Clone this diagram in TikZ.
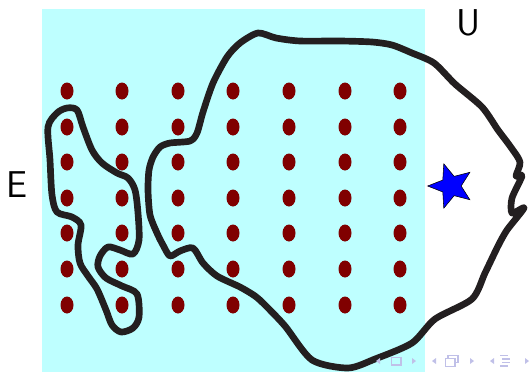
\documentclass[tikz,border=0pt]{standalone}
\usepackage{tikz}
\usetikzlibrary{shapes.geometric}
\definecolor{pool}{RGB}{190,255,255}
\definecolor{seed}{RGB}{128,0,0}
\definecolor{ink}{RGB}{35,31,32}
\definecolor{navcol}{RGB}{192,192,232}
\tikzset{
  outline/.style={draw=ink, line width=5pt, line join=round, line cap=round},
  seeddot/.style={fill=seed, draw=none},
  navtri/.style={fill=navcol, draw=none},
  navbox/.style={draw=navcol, line width=1.1pt},
  biglabel/.style={font=\fontsize{28}{30}\selectfont\sffamily, inner sep=0pt}
}
\begin{document}
\begin{tikzpicture}[x=0.75pt, y=-0.75pt]
\useasboundingbox (0,0) rectangle (530,372);

% shaded region
\fill[pool] (42,9) rectangle (425,372);

% grid of seeds
\foreach \cx in {67,122,178,233,289,345,400}
  \foreach \cy in {91,127,162,198,233,269,305}
    \fill[seeddot] (\cx,\cy) ellipse [x radius=6.5, y radius=8.5];

% large enclosing curve
\draw[outline] plot[smooth cycle, tension=0.45] coordinates {
  (258,33) (276,38) (300,41) (340,41) (372,42) (392,45) (412,53) (434,63)
  (455,84) (482,107) (498,130) (510,146) (520,162) (516,176) (522,176)
  (512,198) (512,213) (524,208) (507,230) (498,246) (485,273) (472,299)
  (435,319) (412,343) (375,359) (348,368) (312,360) (285,326) (265,305)
  (255,296) (240,287) (217,276) (203,263) (193,248) (180,251) (170,256)
  (163,245) (157,233) (150,215) (148,190) (149,170) (153,157) (160,147)
  (170,143) (190,141) (197,133) (203,112) (213,83) (227,57) (240,43)};

% small left curve
\draw[outline] plot[smooth cycle, tension=0.5] coordinates {
  (67,108) (77,110) (83,127) (92,150) (102,163) (117,173) (128,178)
  (135,190) (138,213) (139,240) (133,254) (120,250) (108,247) (100,256)
  (98,267) (106,278) (122,286) (137,294) (139,317) (133,328) (121,332)
  (112,325) (106,310) (97,289) (88,276) (80,263) (78,245) (81,225)
  (72,217) (57,212) (52,195) (50,160) (48,127) (57,113)};

% star
\node[star, star points=5, star point ratio=2.3, shape border rotate=90,
      fill=blue, draw=black, line width=0.4pt, inner sep=0pt,
      minimum size=35pt] (pt) at (451,186) {};

% labels
\node[biglabel] (lu) at (468.5,22.5) {U};
\node[biglabel] (le) at (16.5,185) {E};

% navigation symbols
\fill[navtri] (376,361) -- (380,358) -- (380,364) -- cycle;
\draw[navbox] (391.5,357.5) rectangle (401,365);
\fill[navtri] (416,361) -- (412,358) -- (412,364) -- cycle;
\fill[navtri] (432,361) -- (436,358) -- (436,364) -- cycle;
\draw[navbox] (448,355.5) rectangle (458,362.5);
\fill[white] (445.5,358.5) rectangle (455,366.5);
\draw[navbox] (445.5,358.5) rectangle (455,366.5);
\fill[navtri] (474,361) -- (470,358) -- (470,364) -- cycle;
\fill[navtri] (490,361) -- (494,358) -- (494,364) -- cycle;
\draw[navcol, line width=1.1pt] (500,355.5) -- (508,355.5)
  (502,359) -- (510,359) (502,362.5) -- (510,362.5) (500,366) -- (508,366);
\fill[navtri] (529,361) -- (525,358) -- (525,364) -- cycle;
\end{tikzpicture}
\end{document}
